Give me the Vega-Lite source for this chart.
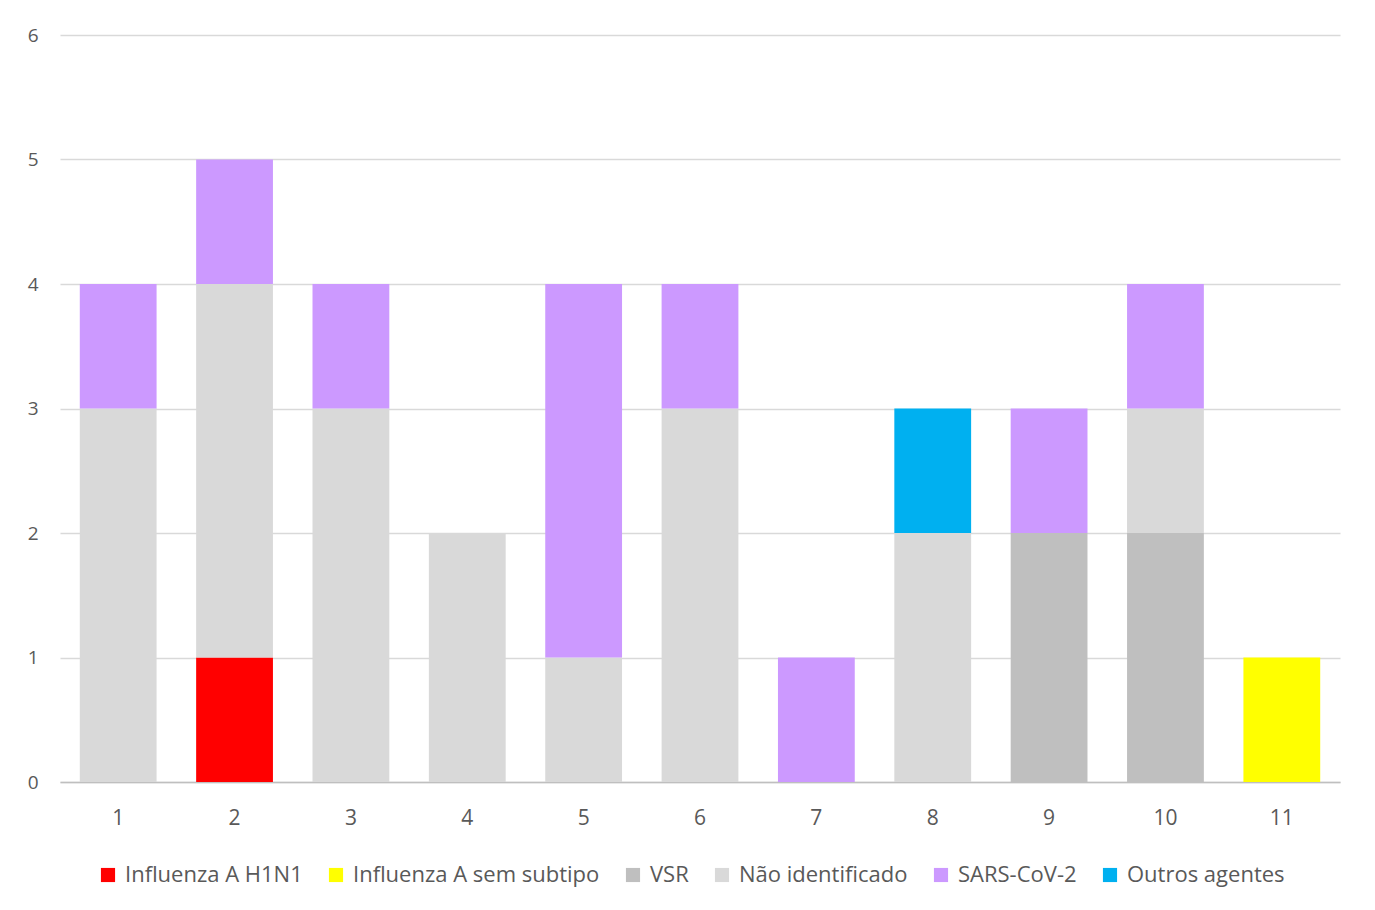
{
  "$schema": "https://vega.github.io/schema/vega-lite/v6.json",
  "width": 1280,
  "height": 747,
  "autosize": "none",
  "padding": {"left": 60, "top": 35, "right": 35, "bottom": 128},
  "background": "white",
  "config": {
    "font": "Open Sans",
    "view": {"stroke": null}
  },
  "datasets": {
    "agentes": [
      {"agente": "Influenza A H1N1", "ordem": 1},
      {"agente": "Influenza A sem subtipo", "ordem": 2},
      {"agente": "VSR", "ordem": 3},
      {"agente": "Não identificado", "ordem": 4},
      {"agente": "SARS-CoV-2", "ordem": 5},
      {"agente": "Outros agentes", "ordem": 6}
    ]
  },
  "data": {
    "values": [
      {"semana": 1, "agente": "Não identificado", "casos": 3},
      {"semana": 1, "agente": "SARS-CoV-2", "casos": 1},
      {"semana": 2, "agente": "Influenza A H1N1", "casos": 1},
      {"semana": 2, "agente": "Não identificado", "casos": 3},
      {"semana": 2, "agente": "SARS-CoV-2", "casos": 1},
      {"semana": 3, "agente": "Não identificado", "casos": 3},
      {"semana": 3, "agente": "SARS-CoV-2", "casos": 1},
      {"semana": 4, "agente": "Não identificado", "casos": 2},
      {"semana": 5, "agente": "Não identificado", "casos": 1},
      {"semana": 5, "agente": "SARS-CoV-2", "casos": 3},
      {"semana": 6, "agente": "Não identificado", "casos": 3},
      {"semana": 6, "agente": "SARS-CoV-2", "casos": 1},
      {"semana": 7, "agente": "SARS-CoV-2", "casos": 1},
      {"semana": 8, "agente": "Não identificado", "casos": 2},
      {"semana": 8, "agente": "Outros agentes", "casos": 1},
      {"semana": 9, "agente": "VSR", "casos": 2},
      {"semana": 9, "agente": "SARS-CoV-2", "casos": 1},
      {"semana": 10, "agente": "VSR", "casos": 2},
      {"semana": 10, "agente": "Não identificado", "casos": 1},
      {"semana": 10, "agente": "SARS-CoV-2", "casos": 1},
      {"semana": 11, "agente": "Influenza A sem subtipo", "casos": 1}
    ]
  },
  "transform": [
    {"lookup": "agente", "from": {"data": {"name": "agentes"}, "key": "agente", "fields": ["ordem"]}}
  ],
  "mark": {"type": "bar"},
  "encoding": {
    "x": {
      "field": "semana", "type": "ordinal",
      "scale": {"paddingInner": 0.34, "paddingOuter": 0.17},
      "axis": {"title": null, "labelAngle": 0, "ticks": false, "domainColor": "#bfbfbf", "domainWidth": 1.5, "labelPadding": 25, "grid": false, "labelFontSize": 21, "labelColor": "#595959", "labelFont": "Open Sans"}
    },
    "y": {
      "field": "casos", "type": "quantitative", "stack": "zero",
      "scale": {"domain": [0, 6], "nice": false},
      "axis": {"title": null, "values": [0,1,2,3,4,5,6], "labelOverlap": false, "ticks": false, "domain": false, "labelPadding": 22, "gridColor": "#d9d9d9", "gridWidth": 1.3, "labelBaseline": "middle", "labelFontSize": 19, "labelColor": "#595959", "labelFont": "Open Sans"}
    },
    "order": {"field": "ordem", "type": "quantitative", "sort": "ascending"},
    "color": {
      "field": "agente", "type": "nominal",
      "scale": {
        "domain": ["Influenza A H1N1", "Influenza A sem subtipo", "VSR", "Não identificado", "SARS-CoV-2", "Outros agentes"],
        "range": ["#ff0000", "#ffff00", "#bfbfbf", "#d9d9d9", "#cc99ff", "#00b0f0"]
      },
      "legend": {
        "title": null, "orient": "none", "legendX": 37, "legendY": 829, "direction": "horizontal",
        "columns": 6, "symbolType": "square", "symbolSize": 200, "symbolStrokeWidth": 0, "labelLimit": 500,
        "labelFontSize": 22, "labelColor": "#595959", "labelFont": "Open Sans", "columnPadding": 22, "labelOffset": 6
      }
    }
  }
}
